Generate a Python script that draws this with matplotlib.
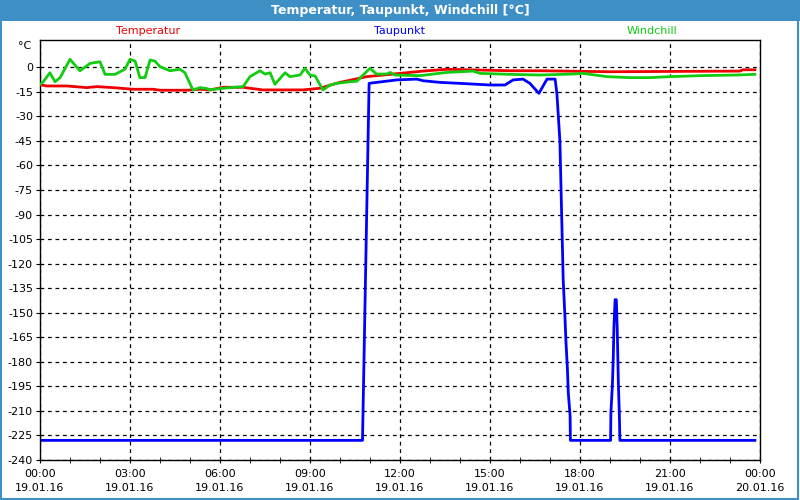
import matplotlib.pyplot as plt
from matplotlib.patches import Rectangle

# hours since 19.01.16 00:00
temp_h = [0.0, 0.22, 0.89, 1.56, 1.89, 2.43, 3.1, 3.77, 4.0, 4.9, 5.33, 5.67, 6.1, 6.77,
          7.0, 7.43, 8.77, 9.33, 9.77, 10.0, 10.89, 12.0, 12.77, 13.56, 15.67, 16.67,
          19.0, 23.33, 23.43, 23.83]
temp_v = [-10.6, -11.4, -11.4, -12.4, -11.8, -12.4, -13.4, -13.4, -14.0, -14.0, -13.4,
          -13.8, -12.2, -12.2, -12.8, -13.8, -13.8, -12.8, -10.4, -9.2, -5.7, -3.7, -2.3,
          -1.2, -2.1, -2.1, -2.7, -2.3, -1.5, -1.5]

dew_h = [0.0, 10.75, 10.97, 11.22, 11.89, 12.56, 12.77, 13.33, 14.0, 15.0, 15.5, 15.77,
         16.1, 16.33, 16.63, 16.9, 17.17, 17.23, 17.33, 17.44, 17.5, 17.53, 17.58, 17.61,
         17.67, 17.68, 19.02, 19.03, 19.08, 19.11, 19.13, 19.17, 19.21, 19.24, 19.28,
         19.31, 19.33, 23.83]
dew_v = [-228, -228, -9.8, -9.2, -7.7, -7.2, -8.2, -9.2, -9.8, -10.8, -10.8, -7.7, -7.2,
         -9.8, -15.9, -7.2, -7.2, -16, -45, -130, -153, -167, -184, -199, -213, -228,
         -228, -211, -194, -177, -159, -142, -142, -159, -194, -211, -228, -228]

wind_h = [0.0, 0.11, 0.33, 0.5, 0.67, 1.0, 1.33, 1.67, 2.0, 2.17, 2.5, 2.83, 3.0, 3.17,
          3.33, 3.5, 3.67, 3.83, 4.0, 4.33, 4.67, 4.83, 5.1, 5.33, 5.56, 5.67, 5.89, 6.1,
          6.77, 7.0, 7.33, 7.5, 7.67, 7.83, 8.17, 8.33, 8.67, 8.83, 9.0, 9.17, 9.43, 9.67,
          9.89, 10.33, 10.56, 11.0, 11.22, 11.56, 11.67, 11.83, 12.67, 13.56, 14.43, 14.67,
          15.67, 16.67, 17.77, 18.1, 18.9, 19.67, 20.33, 21.0, 22.0, 23.23, 23.83]
wind_v = [-10.4, -8.8, -3.3, -8.8, -6.3, 4.9, -2.1, 2.4, 3.4, -4.3, -4.3, -1.2, 4.9, 3.8,
          -6.3, -6.3, 4.5, 3.8, 0.4, -2.1, -1.2, -3.3, -13.9, -12.4, -13.0, -13.8, -13.2,
          -12.8, -11.8, -5.7, -2.1, -4.1, -3.3, -10.4, -3.3, -5.7, -4.7, -0.6, -4.7, -5.3,
          -13.8, -10.8, -9.8, -8.8, -8.5, -0.6, -4.1, -4.1, -3.1, -4.7, -5.1, -3.1, -2.3,
          -3.7, -4.3, -4.7, -4.1, -3.7, -5.7, -6.3, -6.3, -5.7, -5.1, -4.7, -4.3]

tick_hours = [0, 3, 6, 9, 12, 15, 18, 21, 24]
tick_labels = ["00:00\n19.01.16", "03:00\n19.01.16", "06:00\n19.01.16", "09:00\n19.01.16",
               "12:00\n19.01.16", "15:00\n19.01.16", "18:00\n19.01.16", "21:00\n19.01.16",
               "00:00\n20.01.16"]
y_ticks = list(range(-240, 1, 15))

RED = "#ee0000"
BLUE = "#0000ff"
GREEN = "#11cc11"
BAR = "#3d8fc6"

fig = plt.figure(figsize=(8, 5), dpi=100)
fig.patch.set_facecolor("white")

# title bar and border
fig.patches.append(Rectangle((0, 0.958), 1, 0.042, transform=fig.transFigure,
                             facecolor=BAR, edgecolor="none", zorder=0))
fig.patches.append(Rectangle((0.001, 0.002), 0.997, 0.996, transform=fig.transFigure,
                             facecolor="none", edgecolor=BAR, linewidth=1.5, zorder=0))
fig.text(0.5, 0.979, "Temperatur, Taupunkt, Windchill [°C]", color="white",
         ha="center", va="center", fontsize=9, fontweight="bold")

ax = fig.add_axes([0.05, 0.08, 0.90, 0.84])
ax.plot(temp_h, temp_v, color=RED, lw=2, zorder=3)
ax.plot(wind_h, wind_v, color=GREEN, lw=2, zorder=4)
ax.plot(dew_h, dew_v, color=BLUE, lw=2, zorder=2)

ax.set_xlim(0, 24)
ax.set_ylim(-240, 16.7)
ax.set_xticks(tick_hours)
ax.set_xticklabels(tick_labels, fontsize=8, linespacing=1.55)
ax.set_xticks(range(0, 25), minor=True)
ax.set_yticks(y_ticks)
ax.set_yticklabels([str(v) for v in y_ticks], fontsize=8)
ax.tick_params(axis="x", which="major", direction="inout", length=5, pad=4)
ax.tick_params(axis="x", which="minor", direction="inout", length=4)
ax.tick_params(axis="y", direction="out", length=3, pad=2)
ax.grid(True, which="major", color="black", linestyle=(0, (3, 3)), linewidth=0.9)
for s in ax.spines.values():
    s.set_linewidth(1)

ax.text(-0.012, 0.985, "°C", transform=ax.transAxes, ha="right", va="center", fontsize=8)
ax.text(0.15, 1.01, "Temperatur", transform=ax.transAxes, color=RED, ha="center",
        va="bottom", fontsize=8)
ax.text(0.5, 1.01, "Taupunkt", transform=ax.transAxes, color=BLUE, ha="center",
        va="bottom", fontsize=8)
ax.text(0.85, 1.01, "Windchill", transform=ax.transAxes, color=GREEN, ha="center",
        va="bottom", fontsize=8)

fig.savefig("out.png", dpi=100)
